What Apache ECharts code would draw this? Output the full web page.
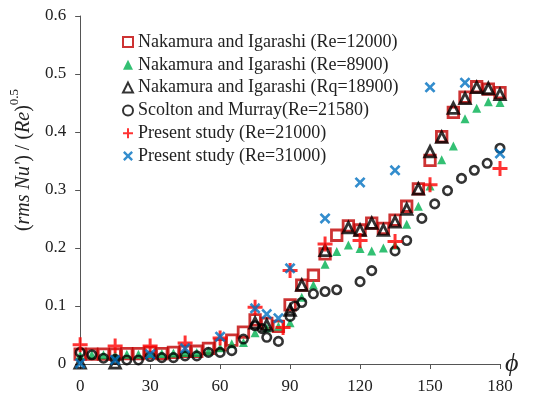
<!DOCTYPE html>
<html>
<head>
<meta charset="utf-8">
<script src="https://cdn.jsdelivr.net/npm/echarts@6/dist/echarts.min.js"></script>
<style>
  html, body { margin: 0; padding: 0; background: #fff; }
  #chart { width: 533px; height: 408px; }
</style>
</head>
<body>
<div id="chart"></div>
<script>
// Angle from the front stagnation point, degrees
const phiEvery5 = [0,5,10,15,20,25,30,35,40,45,50,55,60,65,70,75,80,85,90,95,100,105,110,115,120,125,130,135,140,145,150,155,160,165,170,175,180];

// Nakamura and Igarashi (Re=12000)
const nakamura12000 = [0.017,0.017,0.017,0.017,0.018,0.018,0.02,0.018,0.02,0.022,0.022,0.027,0.033,0.041,0.055,0.076,0.07,0.065,0.102,0.136,0.153,0.19,0.222,0.238,0.231,0.243,0.234,0.248,0.272,0.302,0.351,0.392,0.434,0.46,0.478,0.474,0.468];

// Nakamura and Igarashi (Re=8900)
const nakamura8900 = [0.015,0.016,0.016,0.015,0.017,0.017,0.018,0.018,0.019,0.02,0.02,0.022,0.028,0.035,0.037,0.054,0.062,0.065,0.071,0.115,0.136,0.172,0.194,0.205,0.199,0.195,0.2,0.205,0.241,0.272,0.307,0.352,0.376,0.423,0.441,0.452,0.451];

// Nakamura and Igarashi (Rq=18900)
const phi18900 = [0,15,75,80,90,95,105,115,120,125,130,135,140,145,150,155,160,165,170,175,180];
const nakamura18900 = [0.002,0.002,0.071,0.067,0.093,0.136,0.196,0.235,0.231,0.243,0.231,0.245,0.267,0.302,0.366,0.391,0.441,0.458,0.477,0.475,0.465];

// Scolton and Murray (Re=21580)
const phiScolton = [0,5,10,15,20,25,30,35,40,45,50,55,60,65,70,75,78,80,85,90,92,95,100,105,110,120,125,135,140,146.5,152,157.5,163.5,169,174.5,180];
const scolton21580 = [0.02,0.016,0.01,0.008,0.007,0.007,0.013,0.011,0.011,0.014,0.014,0.02,0.02,0.023,0.043,0.066,0.061,0.046,0.039,0.082,0.1,0.106,0.121,0.125,0.128,0.142,0.161,0.195,0.213,0.251,0.276,0.299,0.32,0.334,0.346,0.372];

// Present study (Re=21000)
const phi21000 = [0,15,30,45,60,75,87,90,105,120,135,150,180];
const present21000 = [0.033,0.031,0.031,0.036,0.045,0.098,0.063,0.161,0.207,0.213,0.211,0.309,0.337];

// Present study (Re=31000)
const phi31000 = [0,15,30,45,60,75,80,85,90,105,120,135,150,165,180];
const present31000 = [0.001,0.007,0.017,0.027,0.047,0.096,0.086,0.079,0.165,0.251,0.313,0.334,0.477,0.485,0.363];

// Axis ticks
const xTicks = { min: 0, max: 180, interval: 30 };
const yTicks = { min: 0, max: 0.6, interval: 0.1 };

const seriesNames = [
  'Nakamura and Igarashi (Re=12000)',
  'Nakamura and Igarashi (Re=8900)',
  'Nakamura and Igarashi (Rq=18900)',
  'Scolton and Murray(Re=21580)',
  'Present study (Re=21000)',
  'Present study (Re=31000)'
];

const FONT = "'Liberation Serif', 'Times New Roman', serif";
// plus and cross marker outlines
const PLUS = 'path://M2,0H3V2H5V3H3V5H2V3H0V2H2Z';
const CROSS = 'path://M0,1.7L1.7,0L5,3.3L8.3,0L10,1.7L6.7,5L10,8.3L8.3,10L5,6.7L1.7,10L0,8.3L3.3,5Z';

function pairs(xs, ys) { return xs.map((x, i) => [x, ys[i]]); }

const chart = echarts.init(document.getElementById('chart'), null, { renderer: 'canvas' });

chart.setOption({
  backgroundColor: '#ffffff',
  animation: false,
  textStyle: { fontFamily: FONT },
  grid: { left: 79, right: 33, top: 16, bottom: 44, containLabel: false },
  legend: {
    orient: 'vertical',
    left: 117,
    top: 28,
    itemWidth: 10,
    itemHeight: 10,
    itemGap: 4.8,
    textStyle: { fontFamily: FONT, fontSize: 18, color: '#222', lineHeight: 18 },
    data: seriesNames
  },
  xAxis: {
    type: 'value',
    min: xTicks.min, max: xTicks.max, interval: xTicks.interval,
    name: 'ϕ',
    nameLocation: 'end',
    nameGap: 5,
    nameTextStyle: { fontFamily: FONT, fontSize: 26, fontStyle: 'italic', color: '#222', verticalAlign: 'middle' },
    axisLine: { lineStyle: { color: '#555', width: 1 } },
    axisTick: { show: true, length: 5, lineStyle: { color: '#555' } },
    axisLabel: { fontFamily: FONT, fontSize: 17, color: '#222', margin: 14 },
    splitLine: { show: false }
  },
  yAxis: {
    type: 'value',
    min: yTicks.min, max: yTicks.max, interval: yTicks.interval,
    name: "{n|(}{i|rms Nu'}{n|) / (}{i|Re}{n|)}{s|0.5}",
    nameLocation: 'middle',
    nameRotate: 90,
    nameGap: 46,
    nameTextStyle: {
      fontFamily: FONT, fontSize: 20, color: '#222',
      padding: [0, 0, 0, 60],
      rich: {
        n: { fontFamily: FONT, fontSize: 20, color: '#222', lineHeight: 26, verticalAlign: 'bottom' },
        i: { fontFamily: FONT, fontSize: 20, color: '#222', fontStyle: 'italic', lineHeight: 26, verticalAlign: 'bottom' },
        s: { fontFamily: FONT, fontSize: 13, color: '#222', lineHeight: 26, verticalAlign: 'top' }
      }
    },
    axisLine: { show: true, lineStyle: { color: '#555', width: 1 } },
    axisTick: { show: true, length: 5, lineStyle: { color: '#555' } },
    axisLabel: { fontFamily: FONT, fontSize: 17, color: '#222', margin: 14 },
    splitLine: { show: false }
  },
  series: [
    {
      name: seriesNames[0], type: 'scatter', symbol: 'rect', symbolSize: 10.5,
      itemStyle: { color: 'rgba(255,255,255,0)', borderColor: '#C00000', borderWidth: 2.8 },
      data: pairs(phiEvery5, nakamura12000)
    },
    {
      name: seriesNames[1], type: 'scatter', symbol: 'triangle', symbolSize: 9,
      itemStyle: { color: '#00B050' },
      data: pairs(phiEvery5, nakamura8900)
    },
    {
      name: seriesNames[2], type: 'scatter', symbol: 'triangle', symbolSize: 10.5,
      itemStyle: { color: 'rgba(255,255,255,0)', borderColor: '#000', borderWidth: 2.8 },
      data: pairs(phi18900, nakamura18900)
    },
    {
      name: seriesNames[3], type: 'scatter', symbol: 'circle', symbolSize: 8.5,
      itemStyle: { color: 'rgba(255,255,255,0)', borderColor: '#000', borderWidth: 2.6 },
      data: pairs(phiScolton, scolton21580)
    },
    {
      name: seriesNames[4], type: 'scatter', symbol: PLUS, symbolSize: 15,
      itemStyle: { color: '#FF0000' },
      data: pairs(phi21000, present21000)
    },
    {
      name: seriesNames[5], type: 'scatter', symbol: CROSS, symbolSize: 11,
      itemStyle: { color: '#0070C0' },
      data: pairs(phi31000, present31000)
    }
  ]
});
</script>
</body>
</html>
